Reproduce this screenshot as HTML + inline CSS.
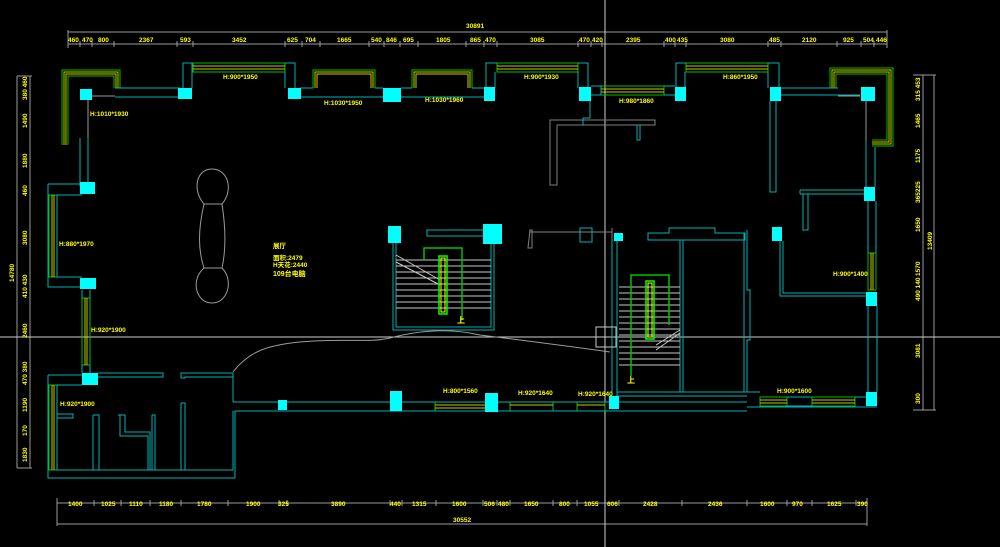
<!DOCTYPE html>
<html><head><meta charset="utf-8"><style>
html,body{margin:0;padding:0;background:#000;}
svg{display:block}
text{font-family:"Liberation Sans","Noto Sans CJK SC",sans-serif;fill:#ffff00;font-size:6.5px;font-weight:bold}
</style></head><body>
<svg width="1000" height="547" viewBox="0 0 1000 547" xmlns="http://www.w3.org/2000/svg">
<rect width="1000" height="547" fill="#000"/>
<!-- dimension lines -->
<g stroke="#9a9a9a" stroke-width="1" fill="none">
<line x1="68" y1="32" x2="887" y2="32"/><line x1="68" y1="44" x2="887" y2="44"/>
<line x1="68" y1="30" x2="68" y2="48"/><line x1="887" y1="30" x2="887" y2="48"/>
<line x1="57" y1="503" x2="867" y2="503"/><line x1="57" y1="524" x2="867" y2="524"/>
<line x1="57" y1="498" x2="57" y2="526"/><line x1="867" y1="498" x2="867" y2="526"/>
<line x1="17" y1="76" x2="17" y2="468"/><line x1="30" y1="76" x2="30" y2="468"/>
<line x1="17" y1="76" x2="32" y2="76"/><line x1="17" y1="468" x2="32" y2="468"/>
<line x1="923" y1="75" x2="923" y2="410"/><line x1="934" y1="75" x2="934" y2="410"/>
<line x1="913" y1="75" x2="936" y2="75"/><line x1="913" y1="410" x2="936" y2="410"/>
</g>
<g stroke="#9a9a9a" stroke-width="1">
<line x1="80" y1="41" x2="80" y2="47"/><line x1="92" y1="41" x2="92" y2="47"/><line x1="114" y1="41" x2="114" y2="47"/><line x1="177" y1="41" x2="177" y2="47"/><line x1="193" y1="41" x2="193" y2="47"/><line x1="285" y1="41" x2="285" y2="47"/><line x1="302" y1="41" x2="302" y2="47"/><line x1="320" y1="41" x2="320" y2="47"/><line x1="369" y1="41" x2="369" y2="47"/><line x1="384" y1="41" x2="384" y2="47"/><line x1="400" y1="41" x2="400" y2="47"/><line x1="418" y1="41" x2="418" y2="47"/><line x1="466" y1="41" x2="466" y2="47"/><line x1="484" y1="41" x2="484" y2="47"/><line x1="497" y1="41" x2="497" y2="47"/><line x1="578" y1="41" x2="578" y2="47"/><line x1="591" y1="41" x2="591" y2="47"/><line x1="602" y1="41" x2="602" y2="47"/><line x1="664" y1="41" x2="664" y2="47"/><line x1="675" y1="41" x2="675" y2="47"/><line x1="686" y1="41" x2="686" y2="47"/><line x1="768" y1="41" x2="768" y2="47"/><line x1="781" y1="41" x2="781" y2="47"/><line x1="837" y1="41" x2="837" y2="47"/><line x1="861" y1="41" x2="861" y2="47"/><line x1="874" y1="41" x2="874" y2="47"/>
<line x1="94" y1="500" x2="94" y2="506"/><line x1="121" y1="500" x2="121" y2="506"/><line x1="150" y1="500" x2="150" y2="506"/><line x1="181" y1="500" x2="181" y2="506"/><line x1="228" y1="500" x2="228" y2="506"/><line x1="279" y1="500" x2="279" y2="506"/><line x1="287" y1="500" x2="287" y2="506"/><line x1="390" y1="500" x2="390" y2="506"/><line x1="402" y1="500" x2="402" y2="506"/><line x1="436" y1="500" x2="436" y2="506"/><line x1="483" y1="500" x2="483" y2="506"/><line x1="497" y1="500" x2="497" y2="506"/><line x1="510" y1="500" x2="510" y2="506"/><line x1="553" y1="500" x2="553" y2="506"/><line x1="577" y1="500" x2="577" y2="506"/><line x1="605" y1="500" x2="605" y2="506"/><line x1="619" y1="500" x2="619" y2="506"/><line x1="682" y1="500" x2="682" y2="506"/><line x1="747" y1="500" x2="747" y2="506"/><line x1="787" y1="500" x2="787" y2="506"/><line x1="812" y1="500" x2="812" y2="506"/><line x1="856" y1="500" x2="856" y2="506"/>
</g>
<!-- crosshair -->
<line x1="605" y1="0" x2="605" y2="547" stroke="#d0d0d0" stroke-width="1"/>
<line x1="0" y1="337" x2="1000" y2="337" stroke="#d0d0d0" stroke-width="1"/>
<!-- dim texts top -->
<text x="466" y="28">30891</text>
<g>
<text x="68" y="42">460</text><text x="82" y="42">470</text><text x="98" y="42">800</text><text x="139" y="42">2367</text><text x="180" y="42">593</text><text x="232" y="42">3452</text><text x="287" y="42">625</text><text x="305" y="42">704</text><text x="337" y="42">1665</text><text x="371" y="42">540</text><text x="386" y="42">846</text><text x="403" y="42">695</text><text x="436" y="42">1805</text><text x="470" y="42">865</text><text x="485" y="42">470</text><text x="530" y="42">3085</text><text x="579" y="42">470</text><text x="592" y="42">420</text><text x="626" y="42">2395</text><text x="665" y="42">400</text><text x="677" y="42">435</text><text x="720" y="42">3080</text><text x="769" y="42">485</text><text x="802" y="42">2120</text><text x="843" y="42">925</text><text x="863" y="42">504</text><text x="876" y="42">446</text>
<text x="68" y="506">1400</text><text x="101" y="506">1025</text><text x="129" y="506">1110</text><text x="159" y="506">1180</text><text x="197" y="506">1780</text><text x="246" y="506">1900</text><text x="278" y="506">325</text><text x="331" y="506">3890</text><text x="390" y="506">440</text><text x="412" y="506">1315</text><text x="452" y="506">1600</text><text x="484" y="506">506</text><text x="498" y="506">480</text><text x="524" y="506">1650</text><text x="559" y="506">800</text><text x="584" y="506">1055</text><text x="607" y="506">606</text><text x="643" y="506">2428</text><text x="708" y="506">2436</text><text x="760" y="506">1600</text><text x="792" y="506">970</text><text x="827" y="506">1625</text><text x="857" y="506">390</text>
<text x="453" y="522">30552</text>
</g>
<g transform="rotate(-90)">
<text x="-100" y="27">380 460</text><text x="-128" y="27">1490</text><text x="-168" y="27">1880</text><text x="-196" y="27">460</text><text x="-245" y="27">3080</text><text x="-298" y="27">410 430</text><text x="-338" y="27">2460</text><text x="-385" y="27">470 380</text><text x="-412" y="27">1190</text><text x="-436" y="27">170</text><text x="-462" y="27">1830</text>
<text x="-282" y="14">14780</text>
<text x="-101" y="920">315 453</text><text x="-128" y="920">1465</text><text x="-163" y="920">1175</text><text x="-203" y="920">365225</text><text x="-206" y="920"></text><text x="-232" y="920">1650</text><text x="-276" y="920">1570</text><text x="-301" y="920">490 140</text><text x="-358" y="920">3081</text><text x="-404" y="920">300</text>
<text x="-250" y="932">13409</text>
</g>
<!-- windows (green/yellow) -->
<g fill="none" stroke-width="1">
<g stroke="#00c000"><path d="M62 145 V70 H120 V88"/><path d="M68 145 V76 H114 V88"/>
<path d="M830 88 V68 H893 V146 H872"/><path d="M836 88 V74 H887 V140 H872"/>
<path d="M313 88 V70 H375 V88"/><path d="M412 88 V70 H472 V88"/>
<rect x="193" y="63" width="92" height="9"/><rect x="497" y="63" width="81" height="9"/><rect x="686" y="63" width="82" height="9"/><rect x="601" y="86" width="63" height="9"/>
<rect x="49" y="195" width="8" height="82"/><rect x="82" y="298" width="8" height="67"/><rect x="49" y="385" width="8" height="85"/>
<rect x="868" y="253" width="8" height="37"/>
<rect x="435" y="402" width="52" height="9"/><rect x="510" y="402" width="43" height="9"/><rect x="577" y="402" width="28" height="9"/><rect x="760" y="397" width="27" height="9"/><rect x="812" y="397" width="43" height="9"/>
</g>
<g stroke="#c8c800"><path d="M64 145 V72 H118 V88"/><path d="M66 145 V74 H116 V88"/>
<path d="M832 88 V70 H891 V144 H872"/><path d="M834 88 V72 H889 V142 H872"/>
<path d="M315 88 V72 H373 V88"/><path d="M317 88 V74 H371 V88"/><path d="M414 88 V72 H470 V88"/><path d="M416 88 V74 H468 V88"/>
<line x1="193" y1="66" x2="285" y2="66"/><line x1="193" y1="69" x2="285" y2="69"/><line x1="497" y1="66" x2="578" y2="66"/><line x1="497" y1="69" x2="578" y2="69"/><line x1="686" y1="66" x2="768" y2="66"/><line x1="686" y1="69" x2="768" y2="69"/><line x1="601" y1="89" x2="664" y2="89"/><line x1="601" y1="92" x2="664" y2="92"/>
<line x1="52" y1="195" x2="52" y2="277"/><line x1="54" y1="195" x2="54" y2="277"/><line x1="85" y1="298" x2="85" y2="365"/><line x1="87" y1="298" x2="87" y2="365"/><line x1="52" y1="385" x2="52" y2="470"/><line x1="54" y1="385" x2="54" y2="470"/><line x1="871" y1="253" x2="871" y2="290"/><line x1="873" y1="253" x2="873" y2="290"/>
<line x1="435" y1="405" x2="487" y2="405"/><line x1="435" y1="408" x2="487" y2="408"/><line x1="510" y1="405" x2="553" y2="405"/><line x1="577" y1="405" x2="605" y2="405"/><line x1="760" y1="400" x2="787" y2="400"/><line x1="760" y1="403" x2="787" y2="403"/><line x1="812" y1="400" x2="855" y2="400"/><line x1="812" y1="403" x2="855" y2="403"/>
</g>
</g>
<!-- walls cyan -->
<g fill="none" stroke="#00b4b4" stroke-width="1">
<path d="M115 88 H180 M115 97 H180 M192 88 V63 M183 88 V63 H193 M285 63 H295 V88 M285 72 V88"/>
<path d="M300 88 H313 M300 97 H383 M375 88 H383 M401 88 H412 M401 97 H484 M472 88 H484"/>
<path d="M486 88 V63 H497 M495 88 V72 M578 63 H588 V88 M578 72 V88"/>
<path d="M591 86 H601 V95 H591 M664 86 H675 M664 95 H675"/>
<path d="M676 88 V63 H686 M685 88 V72 M768 63 H779 V88 M768 72 V88 M781 88 H838 M781 95 H860"/>
<path d="M866 140 V187 M875 147 V187 M868 201 V253 M876 201 V253 M868 306 V392 M877 306 V392"/>
<path d="M770 101 V192 H776 V101 M800 190 H866 M800 194 H866 M800 190 V194 M803 194 V230 H808 V194"/>
<path d="M780 241 V296 H866 M783 241 V293 H866"/>
<path d="M747 392 H760 M747 407 H877 M787 397 H812 M855 397 H866 M787 406 H812"/>
<path d="M80 138 V186 M88 138 V186 M48 184 V287 H82 M48 184 H82 M57 195 V277 H82 M57 195 H82"/>
<path d="M82 290 V298 M90 290 V298 M82 365 V373 M90 365 V373"/>
<path d="M48 375 H82 M48 375 V478 H235 V411 H747 M233 402 V373 H181 V378 H185 V377 H233 M233 402 H747"/>
<path d="M98 373 H163 V377 H98 M57 385 H82 M57 385 V470 H233 V411"/>
<path d="M57 414 H73 V418 H57 M93 415 H99 V470 M93 415 V470 M118 415 H125 V432 H150 V470 M120 415 V436 H148 V470 M152 415 H155 V470 M152 415 V470 M181 403 H185 V470 M181 403 V470"/>
<path d="M550 120 V185 H557 V125 H655 V120 Z" stroke="#808080"/>
<path d="M583 125 V118 M590 88 V118 H583 M637 125 V140 H640 V125"/>
<path d="M393 234 V330 H494 V234 M396 234 V327 H491 V234 M427 230 H486 V236 H427 Z"/>
<path d="M530 230 H532 V248 H528 Z M530 232 H612 M612 228 V240" stroke="#808080"/>
<path d="M580 228 H592 V242 H580 Z"/>
<path d="M612 240 V396 M617 240 V396 M617 392 H747 M617 396 H747 M648 233 H669 V228 H715 V233 H745 V240 H648 Z M680 240 V392 M683 240 V392 M744 233 V392 M747 230 V290 H750 V340 H747 V392"/>
</g>
<!-- pillars -->
<g fill="#00ffff">
<rect x="80" y="89" width="12" height="11"/><rect x="178" y="88" width="14" height="11"/><rect x="288" y="88" width="13" height="11"/><rect x="383" y="88" width="18" height="14"/><rect x="484" y="87" width="11" height="14"/><rect x="579" y="87" width="12" height="14"/><rect x="675" y="87" width="11" height="14"/><rect x="770" y="87" width="11" height="14"/><rect x="861" y="87" width="14" height="14"/>
<rect x="80" y="182" width="15" height="12"/><rect x="80" y="278" width="16" height="11"/><rect x="82" y="373" width="16" height="12"/>
<rect x="864" y="187" width="11" height="14"/><rect x="772" y="227" width="10" height="14"/><rect x="866" y="292" width="11" height="14"/><rect x="866" y="392" width="11" height="14"/>
<rect x="388" y="226" width="13" height="17"/><rect x="483" y="224" width="19" height="20"/><rect x="614" y="233" width="9" height="8"/>
<rect x="278" y="400" width="9" height="10"/><rect x="390" y="391" width="12" height="20"/><rect x="485" y="393" width="13" height="19"/><rect x="609" y="396" width="10" height="13"/>
</g>
<!-- gray lines -->
<g fill="none" stroke="#9a9a9a" stroke-width="1">
<path d="M92 96 H115 M88 100 V138 M860 96 H838 M866 101 V140"/>
<path d="M212 169 C196 169 192 190 204 204 L222 204 C234 190 228 169 212 169 Z M204 204 C198 230 198 250 204 268 M222 204 C226 230 226 250 222 268 M204 268 L222 268 M204 268 C190 280 196 303 212 303 C228 303 234 280 222 268"/>
<path d="M233 372 C250 350 270 345 300 342 C340 338 370 343 390 338 C420 330 450 328 480 335 C520 340 560 345 610 352"/>
<rect x="596" y="327" width="20" height="20" stroke="#c8c8c8"/>
</g>
<!-- stairs -->
<g stroke="#c8c8c8" stroke-width="1">
<line x1="396" y1="260" x2="491" y2="260"/><line x1="396" y1="266" x2="491" y2="266"/><line x1="396" y1="272" x2="491" y2="272"/><line x1="396" y1="278" x2="491" y2="278"/><line x1="396" y1="284" x2="491" y2="284"/><line x1="396" y1="290" x2="491" y2="290"/><line x1="396" y1="296" x2="491" y2="296"/><line x1="396" y1="302" x2="491" y2="302"/><line x1="396" y1="308" x2="491" y2="308"/>
<line x1="396" y1="255" x2="440" y2="280"/><line x1="396" y1="262" x2="440" y2="285"/>
<line x1="619" y1="287" x2="680" y2="287"/><line x1="619" y1="293" x2="680" y2="293"/><line x1="619" y1="299" x2="680" y2="299"/><line x1="619" y1="305" x2="680" y2="305"/><line x1="619" y1="311" x2="680" y2="311"/><line x1="619" y1="317" x2="680" y2="317"/><line x1="619" y1="323" x2="680" y2="323"/><line x1="619" y1="329" x2="680" y2="329"/><line x1="619" y1="335" x2="680" y2="335"/><line x1="619" y1="341" x2="680" y2="341"/><line x1="619" y1="347" x2="680" y2="347"/><line x1="619" y1="353" x2="680" y2="353"/><line x1="619" y1="359" x2="680" y2="359"/><line x1="619" y1="365" x2="680" y2="365"/>
<line x1="656" y1="350" x2="680" y2="333"/><line x1="656" y1="345" x2="680" y2="330"/>
</g>
<g fill="none" stroke="#00c000" stroke-width="1.5">
<path d="M424 260 V248 H462 V320"/><rect x="439" y="256" width="8" height="58" stroke="#00ff00"/>
<path d="M631 376 V275 H669 V325"/><rect x="646" y="281" width="8" height="58" stroke="#00ff00"/>
</g>
<g fill="none" stroke="#ffff00" stroke-width="1"><rect x="441" y="258" width="4" height="54"/><rect x="648" y="283" width="4" height="54"/></g>
<text x="457" y="323" style="font-size:8px">上</text><text x="627" y="383" style="font-size:8px">上</text>
<!-- labels -->
<text x="223" y="79">H:900*1950</text><text x="324" y="105">H:1030*1950</text><text x="425" y="102">H:1030*1960</text><text x="524" y="79">H:900*1930</text><text x="619" y="103">H:980*1860</text><text x="723" y="79">H:860*1950</text>
<text x="90" y="116">H:1010*1930</text><text x="59" y="246">H:880*1970</text><text x="91" y="332">H:920*1900</text><text x="60" y="406">H:920*1900</text>
<text x="833" y="276">H:900*1400</text><text x="777" y="393">H:900*1600</text>
<text x="443" y="393">H:800*1560</text><text x="518" y="395">H:920*1640</text><text x="578" y="396">H:920*1640</text>
<text x="273" y="248">展厅</text><text x="273" y="260">面积:2479</text><text x="273" y="267">H天花:2440</text><text x="273" y="276" style="font-size:7px">109台电脑</text>
</svg>
</body></html>
